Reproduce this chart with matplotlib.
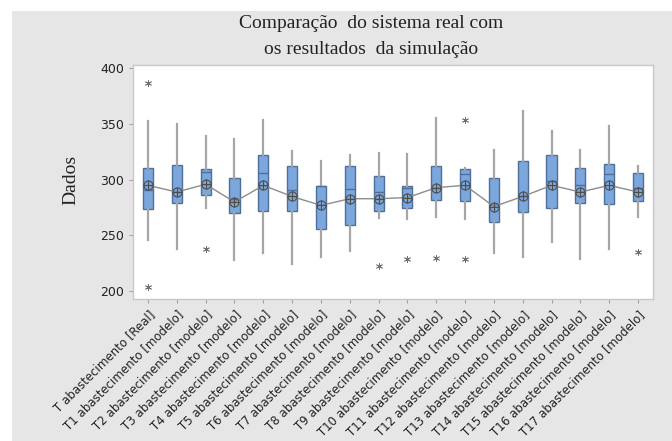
import matplotlib
matplotlib.use("Agg")
import matplotlib.pyplot as plt
from matplotlib.patches import Rectangle

categories = ["T abastecimento [Real]"] + [f"T{i} abastecimento [modelo]" for i in range(1, 18)]
whislo = [246, 238, 275, 228, 234, 224, 231, 236, 266, 265, 267, 265, 234, 231, 244, 229, 238, 267]
q1     = [274, 279, 286, 270, 272, 272, 256, 259, 272, 275, 282, 281, 262, 271, 275, 279, 278, 281]
med    = [291, 289, 307, 283, 306, 291, 294, 292, 289, 293, 293, 305, 277, 285, 299, 295, 305, 293]
q3     = [311, 313, 310, 302, 322, 312, 294, 312, 303, 294, 312, 310, 302, 317, 322, 311, 314, 306]
whishi = [353, 350, 339, 337, 354, 326, 317, 322, 324, 323, 355, 311, 327, 362, 344, 327, 348, 312]
means  = [295, 289, 296, 280, 295, 285, 277, 283, 283, 284, 293, 295, 276, 285, 295, 289, 295, 289]
outliers = [[387, 204], [], [238], [], [], [], [], [], [223], [229], [230], [354, 229], [], [], [], [], [], [235]]
yticks = [200, 250, 300, 350, 400]

W, H = 672, 441
fig = plt.figure(figsize=(W / 100, H / 100), dpi=100, facecolor="white")
bg = Rectangle((12 / W, 0), 1 - 12 / W, (H - 11) / H, transform=fig.transFigure,
               facecolor="#e6e6e6", edgecolor="none", zorder=-10)
fig.add_artist(bg)
ax = fig.add_axes([133 / W, 1 - 299 / H, (653 - 133) / W, (299 - 65) / H])
ax.set_zorder(1)
ax.set_facecolor("white")

stats = []
for i in range(len(categories)):
    stats.append(dict(whislo=whislo[i], q1=q1[i], med=med[i], q3=q3[i], whishi=whishi[i],
                      fliers=outliers[i], label=categories[i]))
pos = list(range(len(categories)))
ax.bxp(stats, positions=pos, widths=0.35, patch_artist=True, showcaps=False,
       boxprops=dict(facecolor="#7ba7dd", edgecolor="#4f6f9a", linewidth=1.0),
       whiskerprops=dict(color="#a6a6a6", linewidth=1.6),
       medianprops=dict(color="#4f6f9a", linewidth=1.0),
       flierprops=dict(marker=(6, 2, 0), markersize=5, markeredgecolor="#707070",
                       markerfacecolor="none", linestyle="none", markeredgewidth=0.6))

ax.plot(pos, means, color="#8c8c8c", linewidth=1.0, zorder=5)
ax.plot(pos, means, linestyle="none", marker="o", markersize=6.5, markerfacecolor="none",
        markeredgecolor="#4d4d4d", markeredgewidth=0.8, zorder=6)
ax.plot(pos, means, linestyle="none", marker="+", markersize=6.5,
        markeredgecolor="#4d4d4d", markeredgewidth=0.8, zorder=6)

ax.set_xlim(-0.52, len(categories) - 0.48)
ax.set_ylim(193, 403)
ax.set_yticks(yticks)
ax.set_xticks(pos)
ax.set_xticklabels(categories, rotation=45, ha="right", rotation_mode="anchor",
                   fontsize=8.5, family="DejaVu Sans", color="#222222")
ax.tick_params(axis="y", labelsize=9, colors="#222222")
ax.tick_params(direction="out", length=3, color="#a0a0a0", width=0.8)
for s in ax.spines.values():
    s.set_color("#c8c8c8")
    s.set_linewidth(1.0)

fig.text(371 / W, 1 - 23 / H, "Comparação  do sistema real com", ha="center", va="center",
         family="Liberation Serif", fontsize=14, color="#222222")
fig.text(371 / W, 1 - 49 / H, "os resultados  da simulação", ha="center", va="center",
         family="Liberation Serif", fontsize=14, color="#222222")
fig.text(71 / W, 1 - 180 / H, "Dados", ha="center", va="center", rotation=90,
         family="Liberation Serif", fontsize=14, color="#222222")

fig.savefig("out.png", dpi=100, facecolor="white")
